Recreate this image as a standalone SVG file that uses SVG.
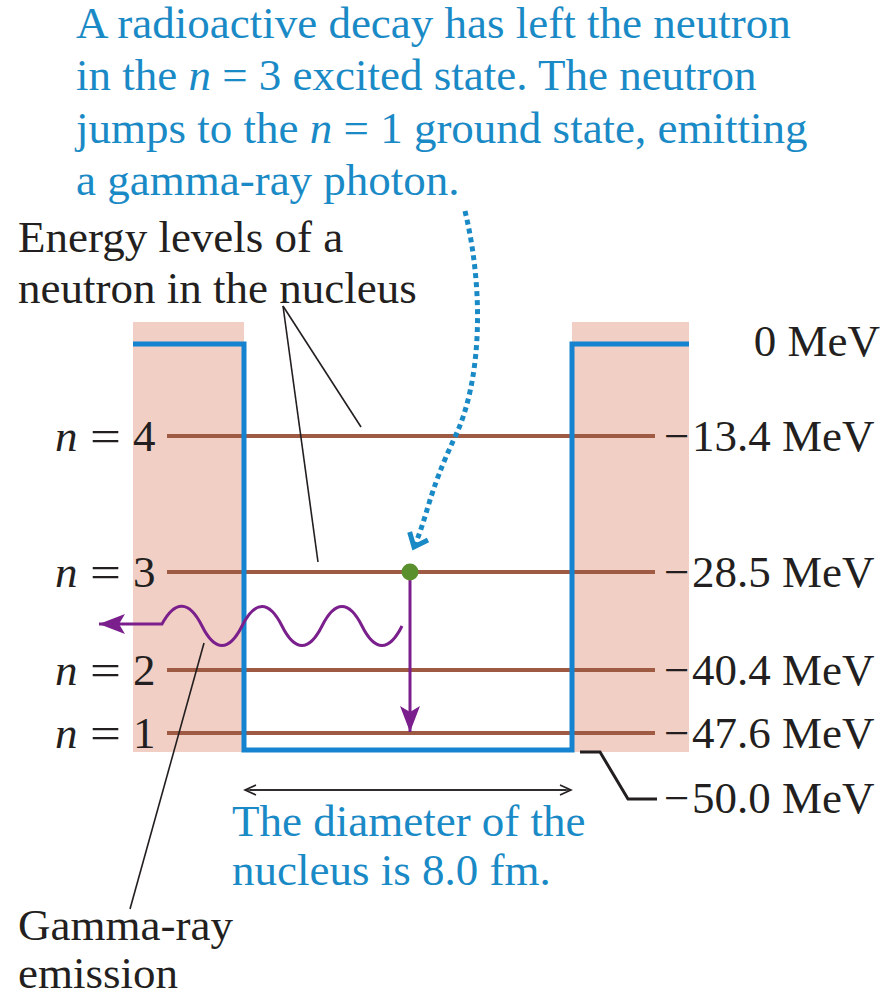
<svg xmlns="http://www.w3.org/2000/svg" width="886" height="1002" viewBox="0 0 886 1002">
<style>
  text { font-family: "Liberation Serif", "Times New Roman", serif; font-size: 45px; fill: #231f20; }
  .blue { fill: #1a8ac6; }
  .it { font-style: italic; }
  .level { stroke: #9e5a43; stroke-width: 4; fill: none; }
  .leader { stroke: #231f20; stroke-width: 1.6; fill: none; }
  .pink { fill: #f2cfc4; }
  .well { stroke: #1583cf; stroke-width: 5; fill: none; }
  .purple { stroke: #7a1f8c; stroke-width: 3; fill: none; }
</style>
<defs>
  <marker id="purpleHead" markerUnits="userSpaceOnUse" markerWidth="30" markerHeight="24" refX="26" refY="12" orient="auto">
    <path d="M0,2 L26,12 L0,22 L6,12 Z" fill="#7a1f8c"/>
  </marker>
  <marker id="smallHead" markerUnits="userSpaceOnUse" markerWidth="14" markerHeight="12" refX="12" refY="6" orient="auto">
    <path d="M1,1 L12,6 L1,11" fill="none" stroke="#231f20" stroke-width="1.6"/>
  </marker>
  <marker id="dotHead" markerUnits="userSpaceOnUse" markerWidth="30" markerHeight="30" refX="15" refY="15" orient="auto">
    <path d="M3,5 L15,15 L3,25" fill="none" stroke="#1a8ac6" stroke-width="5"/>
  </marker>
</defs>

<g id="background">
  <rect class="pink" x="133" y="322" width="111" height="430"/>
  <rect class="pink" x="572" y="322" width="117" height="430"/>
</g>

<g id="levels">
  <line class="level" x1="167" y1="436" x2="655" y2="436"/>
  <line class="level" x1="167" y1="572" x2="655" y2="572"/>
  <line class="level" x1="167" y1="670" x2="655" y2="670"/>
  <line class="level" x1="167" y1="733" x2="655" y2="733"/>
</g>

<g id="well">
  <path class="well" d="M133,344 H244 V750 H572 V344 H689"/>
</g>

<g id="connectors">
  <path class="leader" d="M283,306 L361,427"/>
  <path class="leader" d="M283,306 L318,562"/>
  <path class="leader" d="M204,643 L130,909"/>
  <path d="M580,752 H600 L628,799 H657" fill="none" stroke="#231f20" stroke-width="3"/>
  <line class="leader" x1="250" y1="790" x2="571" y2="790" marker-end="url(#smallHead)"/>
  <line class="leader" x1="566" y1="790" x2="245" y2="790" marker-end="url(#smallHead)"/>
  <path d="M465,211 C484,290 482,380 455,437 S428,515 414,547" fill="none" stroke="#1a8ac6" stroke-width="5" stroke-dasharray="5,4" marker-end="url(#dotHead)"/>
  <path class="purple" d="M402,626 C389,652 375,652 362,626 C349,600 335,600 322,626 C309,652 295,652 282,626 C269,600 255,600 242,626 C229,652 215,652 202,626 C189,600 175,600 162,624 L99,624" marker-end="url(#purpleHead)"/>
  <line class="purple" x1="410" y1="578" x2="410" y2="732" marker-end="url(#purpleHead)"/>
</g>

<g id="neutron">
  <circle cx="410" cy="572" r="8.5" fill="#5a8f2e"/>
</g>

<g id="caption-top">
  <text class="blue" x="76" y="38">A radioactive decay has left the neutron</text>
  <text class="blue" x="76" y="90">in the <tspan class="it">n</tspan> = 3 excited state. The neutron</text>
  <text class="blue" x="76" y="143">jumps to the <tspan class="it">n</tspan> = 1 ground state, emitting</text>
  <text class="blue" x="76" y="195">a gamma-ray photon.</text>
</g>

<g id="label-levels">
  <text x="18" y="252">Energy levels of a</text>
  <text x="18" y="303">neutron in the nucleus</text>
</g>

<g id="n-labels">
  <text y="451"><tspan class="it" x="55">n</tspan><tspan x="90" textLength="31" lengthAdjust="spacingAndGlyphs">=</tspan><tspan x="133">4</tspan></text>
  <text y="587"><tspan class="it" x="55">n</tspan><tspan x="90" textLength="31" lengthAdjust="spacingAndGlyphs">=</tspan><tspan x="133">3</tspan></text>
  <text y="685"><tspan class="it" x="55">n</tspan><tspan x="90" textLength="31" lengthAdjust="spacingAndGlyphs">=</tspan><tspan x="133">2</tspan></text>
  <text y="748"><tspan class="it" x="55">n</tspan><tspan x="90" textLength="31" lengthAdjust="spacingAndGlyphs">=</tspan><tspan x="133">1</tspan></text>
</g>

<g id="energy-labels">
  <text x="880" y="356" text-anchor="end">0 MeV</text>
  <text y="451"><tspan x="664">−</tspan><tspan x="692">13.4 MeV</tspan></text>
  <text y="587"><tspan x="664">−</tspan><tspan x="692">28.5 MeV</tspan></text>
  <text y="685"><tspan x="664">−</tspan><tspan x="692">40.4 MeV</tspan></text>
  <text y="748"><tspan x="664">−</tspan><tspan x="692">47.6 MeV</tspan></text>
  <text y="813"><tspan x="664">−</tspan><tspan x="692">50.0 MeV</tspan></text>
</g>

<g id="diameter-label">
  <text class="blue" x="232" y="836">The diameter of the</text>
  <text class="blue" x="232" y="885">nucleus is 8.0 fm.</text>
</g>

<g id="gamma-label">
  <text x="18" y="940">Gamma-ray</text>
  <text x="18" y="988">emission</text>
</g>
</svg>
